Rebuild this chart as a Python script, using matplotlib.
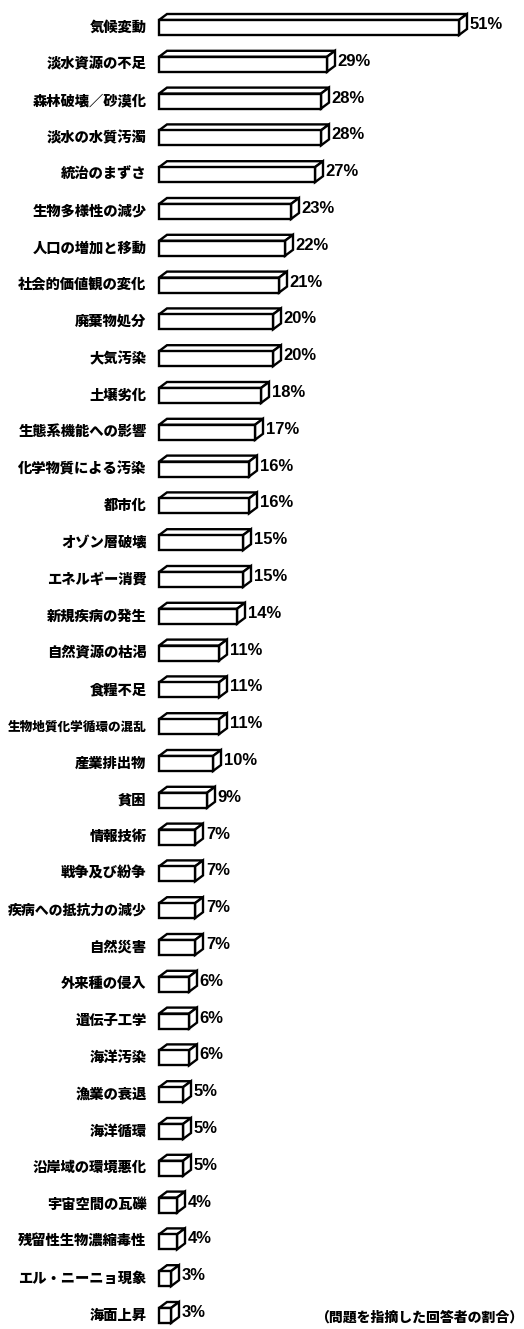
import matplotlib
matplotlib.use("Agg")
import matplotlib.pyplot as plt
from matplotlib.patches import Polygon

plt.rcParams['font.family'] = ['Noto Sans CJK JP', 'DejaVu Sans']

labels = [
    "気候変動", "淡水資源の不足", "森林破壊／砂漠化", "淡水の水質汚濁", "統治のまずさ",
    "生物多様性の減少", "人口の増加と移動", "社会的価値観の変化", "廃棄物処分", "大気汚染",
    "土壌劣化", "生態系機能への影響", "化学物質による汚染", "都市化", "オゾン層破壊",
    "エネルギー消費", "新規疾病の発生", "自然資源の枯渇", "食糧不足", "生物地質化学循環の混乱",
    "産業排出物", "貧困", "情報技術", "戦争及び紛争", "疾病への抵抗力の減少",
    "自然災害", "外来種の侵入", "遺伝子工学", "海洋汚染", "漁業の衰退",
    "海洋循環", "沿岸域の環境悪化", "宇宙空間の瓦礫", "残留性生物濃縮毒性", "エル・ニーニョ現象",
    "海面上昇",
]
values = [51, 29, 28, 28, 27, 23, 22, 21, 20, 20, 18, 17, 16, 16, 15, 15, 14, 11, 11, 11,
          10, 9, 7, 7, 7, 7, 6, 6, 6, 5, 5, 5, 4, 4, 3, 3]
note = "（問題を指摘した回答者の割合）"

W, H = 524, 1329
fig = plt.figure(figsize=(W / 100, H / 100), dpi=100)
ax = fig.add_axes([0, 0, 1, 1])

# axis mapping: bar base (1%) sits at pixel 159, 6 px per percent
base = 1
px_per = 6.0
x0 = base - 159 / px_per
ax.set_xlim(x0, x0 + W / px_per)
row_px = 36.8
top_px = 27.5
ax.set_ylim((H - top_px) / row_px, -top_px / row_px)
ax.axis('off')

bh = 15 / row_px          # front face height (rows)
dx = 8 / px_per           # depth offset in x (percent)
dy = 6 / row_px           # depth offset in y (rows)
lw = 1.7

for i, (lab, v) in enumerate(zip(labels, values)):
    top = i - bh / 2
    bot = i + bh / 2
    ax.barh(i, v - base, left=base, height=bh, facecolor='white',
            edgecolor='black', linewidth=lw, zorder=3)
    top_face = Polygon([(base, top), (base + dx, top - dy), (v + dx, top - dy), (v, top)],
                       closed=True, facecolor='white', edgecolor='black', linewidth=lw,
                       joinstyle='miter', zorder=2)
    side_face = Polygon([(v, top), (v + dx, top - dy), (v + dx, bot - dy), (v, bot)],
                        closed=True, facecolor='white', edgecolor='black', linewidth=lw,
                        joinstyle='miter', zorder=2)
    ax.add_patch(top_face)
    ax.add_patch(side_face)
    fs = min(10.3, 100.0 / len(lab))
    ax.annotate(lab, (base, i), xytext=(-9, 0), textcoords='offset points',
                ha='right', va='center', fontsize=fs, fontweight='black')
    ax.annotate(f"{v}%", (v + dx, i - dy / 2), xytext=(2, 0), textcoords='offset points',
                ha='left', va='center', fontsize=12, fontweight='bold',
                family=['Liberation Sans Narrow', 'Liberation Sans', 'DejaVu Sans'])

ax.text(x0 + 523 / px_per, len(values) - 1 + 0.05, note, ha='right', va='center',
        fontsize=10, fontweight='black')

fig.savefig("out.png", dpi=100)
